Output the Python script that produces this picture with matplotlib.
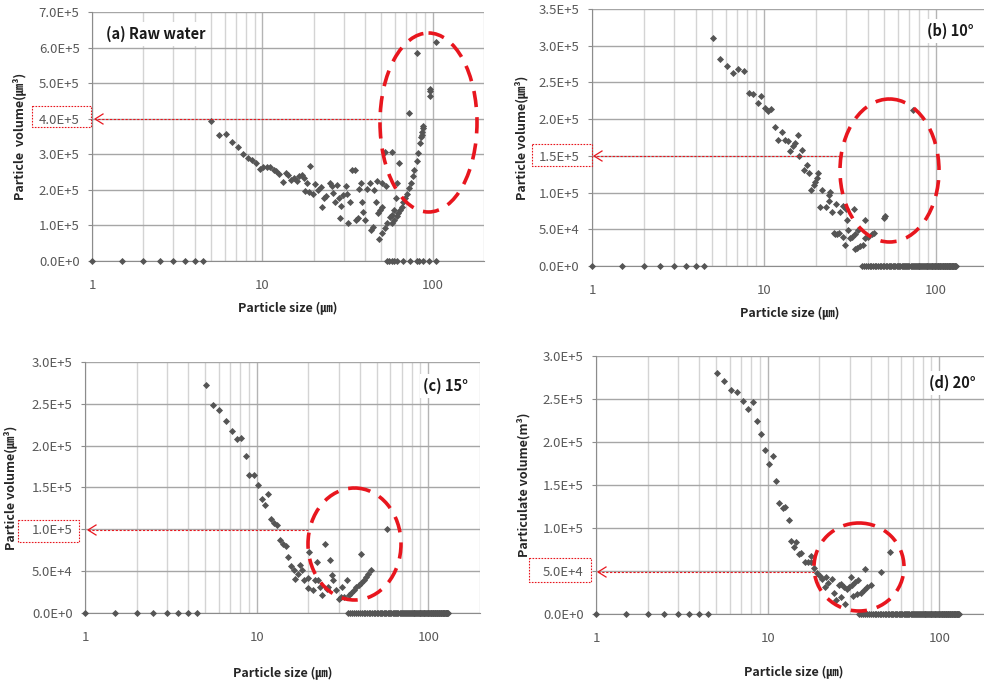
import numpy as np
import matplotlib
matplotlib.use("Agg")
import matplotlib.pyplot as plt
from matplotlib.patches import Ellipse, Rectangle
from matplotlib.ticker import FixedLocator, LogLocator, MultipleLocator, FuncFormatter, NullFormatter

plt.rcParams['font.family'] = ['Noto Sans CJK KR', 'DejaVu Sans']

# particle size bins (um) with zero volume, shared by all panels
small_bins = [1, 1.5, 2, 2.5, 3, 3.5, 4, 4.5]
tail_bins = [34, 35, 36, 37, 38, 39, 40, 41, 42, 43, 44, 45, 46, 47, 48, 49, 50, 51, 52, 53,
             54, 55, 56, 57, 58, 59, 60, 61, 62, 63, 64, 65, 66, 67, 68, 69, 70, 71, 72, 73,
             74, 75, 76, 77, 78, 79, 80, 81, 82, 83, 84, 85, 86, 87, 88, 89, 90, 91, 92, 93,
             94, 95, 96, 97, 98, 99, 100, 101, 102, 103, 104, 105, 106, 107, 108, 109, 110,
             111, 112, 113, 114, 115, 116, 117, 118, 119, 120, 121, 122, 123, 124, 125, 126,
             127, 128, 129, 130]
a_zero_bins = [53.8, 55.7, 57.4, 59.3, 61.5, 67.3, 73.6, 80.5, 83.5, 87.4, 95.5, 104.6]

# (a) raw water, volume in 1e5 um^3
a_size = [5.0, 5.6, 6.1, 6.6, 7.2, 7.7, 8.2, 8.7, 9.2, 9.7, 10.1, 10.6, 11.1, 11.7, 12.1, 12.6,
          13.2, 13.8, 14.2, 14.7, 15.3, 15.9, 16.4, 17.0, 17.6, 17.9, 18.2, 18.9, 19.1, 19.8,
          20.4, 21.3, 22.0, 22.3, 23.0, 23.6, 24.9, 25.5, 26.1, 26.7, 27.6, 28.3, 28.6, 28.8,
          29.9, 30.8, 31.5, 31.9, 32.7, 33.4, 34.9, 35.4, 36.2, 37.0, 37.9, 38.2, 39.1, 40.0,
          41.0, 42.6, 43.4, 44.4, 45.2, 46.6, 47.3, 47.8, 48.6, 49.0, 50.2, 50.3, 50.7, 52.5,
          52.6, 53.0, 54.0, 55.9, 57.4, 57.4, 58.0, 59.3, 59.5, 60.8, 61.3, 62.0, 62.8, 63.5,
          64.3, 65.7, 67.3, 68.9, 70.5, 72.3, 72.6, 74.5, 76.5, 78.0, 80.4, 80.9, 82.3, 84.3,
          85.5, 86.0, 86.5, 87.2, 87.7, 96.0, 96.5, 97.0, 105]
a_vol = [3.95, 3.55, 3.57, 3.35, 3.20, 3.00, 2.90, 2.85, 2.75, 2.59, 2.65, 2.64, 2.65, 2.57, 2.53, 2.46,
         2.22, 2.48, 2.43, 2.29, 2.32, 2.26, 2.38, 2.41, 2.34, 1.98, 2.19, 1.95, 2.67, 1.88,
         2.17, 2.00, 2.08, 1.53, 1.77, 1.84, 2.19, 2.10, 1.91, 1.67, 2.14, 1.77, 1.20, 1.55,
         1.87, 2.10, 1.89, 1.08, 1.65, 2.55, 2.55, 1.15, 1.20, 2.02, 2.19, 1.67, 1.39, 1.15,
         2.02, 2.19, 0.87, 0.96, 2.00, 1.67, 2.24, 1.34, 0.63, 1.44, 0.78, 2.19, 1.51, 3.07,
         0.92, 2.11, 1.06, 1.23, 3.07, 1.30, 1.06, 1.44, 1.15, 1.77, 1.27, 2.19, 1.36, 2.76,
         1.44, 1.53, 1.65, 1.77, 1.89, 2.05, 4.17, 2.19, 2.38, 2.57, 2.81, 5.85, 3.05, 3.33,
         3.48, 3.55, 3.64, 3.74, 3.80, 4.64, 4.78, 4.85, 6.15]

# (b) 10 deg
b_size = [5.05, 5.57, 6.12, 6.58, 7.06, 7.62, 8.14, 8.66, 9.19, 9.64, 10.1, 10.6, 11.0, 11.6, 12.1,
          12.7, 13.2, 13.8, 14.2, 14.8, 15.1, 15.8, 16.0, 16.6, 17.1, 17.7, 18.3, 18.7, 19.4, 19.8,
          20.4, 20.7, 21.2, 21.6, 22.9, 23.7, 23.7, 24.2, 24.7, 25.4, 25.9, 26.2, 26.5, 27.2, 27.7,
          28.7, 28.9, 29.6, 30.0, 30.5, 30.9, 31.7, 32.6, 33.1, 33.6, 33.8, 34.9, 35.3, 36.1, 37.5,
          38.6, 38.6, 40.4, 42.3, 43.8, 49.7, 50.7, 73.3]
b_vol = [3.11, 2.82, 2.72, 2.63, 2.68, 2.66, 2.35, 2.34, 2.22, 2.32, 2.15, 2.11, 2.14, 1.90, 1.72,
         1.83, 1.71, 1.70, 1.56, 1.63, 1.68, 1.78, 1.50, 1.58, 1.31, 1.38, 1.26, 1.03, 1.10, 1.14,
         1.20, 1.27, 0.80, 1.03, 0.81, 0.97, 0.88, 1.01, 0.74, 0.45, 0.43, 0.85, 0.44, 0.45, 0.74,
         0.40, 0.82, 0.29, 0.77, 0.63, 0.49, 0.38, 0.40, 0.77, 0.43, 0.23, 0.25, 0.49, 0.27, 0.29,
         0.63, 0.38, 0.40, 0.43, 0.45, 0.65, 0.68, 2.13]

# (c) 15 deg
c_size = [5.07, 5.6, 6.07, 6.64, 7.17, 7.67, 8.09, 8.68, 9.08, 9.67, 10.2, 10.7, 11.2, 11.7, 12.1,
          12.7, 13.2, 13.7, 14.3, 14.9, 15.3, 15.8, 16.4, 16.8, 17.3, 17.8, 18.3, 18.9, 19.8, 20.0,
          20.3, 21.4, 21.9, 22.4, 22.9, 23.5, 24.0, 25.1, 25.6, 26.2, 26.8, 27.4, 28.0, 29.1, 30.0,
          31.0, 31.4, 32.4, 33.6, 34.3, 35.5, 36.8, 38.0, 39.3, 40.7, 40.7, 42.0, 43.4, 44.8, 46.3,
          57.4]
c_vol = [2.72, 2.48, 2.43, 2.29, 2.17, 2.08, 2.09, 1.88, 1.65, 1.65, 1.53, 1.36, 1.29, 1.42, 1.12,
         1.07, 1.05, 0.87, 0.83, 0.80, 0.67, 0.56, 0.51, 0.41, 0.47, 0.57, 0.51, 0.39, 0.42, 0.30,
         0.73, 0.27, 0.40, 0.61, 0.40, 0.31, 0.22, 0.83, 0.29, 0.31, 0.63, 0.46, 0.40, 0.27, 0.17,
         0.19, 0.31, 0.19, 0.39, 0.21, 0.24, 0.27, 0.31, 0.33, 0.36, 0.71, 0.40, 0.43, 0.47, 0.51,
         1.00]

# (d) 20 deg
d_size = [5.08, 5.6, 6.1, 6.63, 7.17, 7.67, 8.2, 8.68, 9.2, 9.63, 10.2, 10.8, 11.2, 11.7, 12.3,
          12.7, 13.3, 13.7, 14.2, 14.7, 15.2, 15.7, 16.5, 17.2, 17.8, 18.0, 18.6, 19.4, 20.3, 20.8,
          21.5, 21.9, 22.5, 23.6, 24.3, 24.9, 26.0, 26.6, 26.9, 27.8, 28.4, 29.1, 29.7, 30.4, 31.1,
          31.5, 32.2, 33.3, 33.7, 34.8, 36.4, 36.9, 38.0, 39.8, 45.5, 51.5]
d_vol = [2.80, 2.71, 2.60, 2.58, 2.48, 2.38, 2.46, 2.24, 2.09, 1.91, 1.75, 1.84, 1.55, 1.29, 1.23,
         1.24, 1.09, 0.85, 0.78, 0.84, 0.70, 0.71, 0.60, 0.60, 0.61, 0.67, 0.53, 0.48, 0.44, 0.41,
         0.32, 0.43, 0.36, 0.41, 0.24, 0.16, 0.34, 0.20, 0.35, 0.32, 0.12, 0.29, 0.32, 0.43, 0.34,
         0.21, 0.37, 0.23, 0.39, 0.25, 0.28, 0.52, 0.31, 0.34, 0.49, 0.72]


def sci(v, pos):
    m, e = f"{v:.1E}".split("E")
    return f"{m}E+{int(e)}"


def panel(rect, sizes, vols, zeros, ymax, ystep, ylabel, title, tx, ty, ha, xlab_y, ylab_x):
    ax = fig.add_axes(rect)
    xs = list(zeros) + list(sizes)
    ys = [0.0] * len(zeros) + [v * 1e5 for v in vols]
    ax.scatter(xs, ys, marker='D', s=13, color='#555555', linewidths=0, zorder=3, clip_on=False)
    ax.set_xscale('log')
    ax.set_xlim(1, 200)
    ax.set_ylim(0, ymax)
    ax.xaxis.set_major_locator(FixedLocator([1, 10, 100]))
    ax.xaxis.set_major_formatter(FuncFormatter(lambda v, p: f"{v:g}"))
    ax.xaxis.set_minor_locator(LogLocator(base=10, subs=range(2, 10), numticks=20))
    ax.xaxis.set_minor_formatter(NullFormatter())
    ax.yaxis.set_major_locator(MultipleLocator(ystep))
    ax.yaxis.set_major_formatter(FuncFormatter(sci))
    ax.grid(axis='y', which='major', color='#a6a6a6', lw=1.0)
    ax.grid(axis='x', which='major', color='#b4b4b4', lw=1.0)
    ax.grid(axis='x', which='minor', color='#d4d4d4', lw=1.0)
    ax.set_axisbelow(True)
    for s in ['top', 'right']:
        ax.spines[s].set_visible(False)
    for s in ['left', 'bottom']:
        ax.spines[s].set_color('#8c8c8c')
    ax.tick_params(axis='x', which='both', length=0, pad=13, labelsize=9.5, labelcolor='#595959')
    ax.tick_params(axis='y', length=3, color='#8c8c8c', pad=6, labelsize=9.5, labelcolor='#595959')
    ax.set_xlabel('Particle size (㎛)', fontsize=9, fontweight='bold', color='#262626')
    ax.set_ylabel(ylabel, fontsize=9, fontweight='bold', color='#262626')
    ax.xaxis.set_label_coords(0.5, xlab_y)
    ax.yaxis.set_label_coords(ylab_x, 0.5)
    ax.text(tx, ty, title, transform=ax.transAxes, ha=ha, va='center', fontsize=10.5,
            fontweight='bold', color='#1a1a1a',
            bbox=dict(boxstyle='square,pad=0.25', fc='white', ec='none'), zorder=5)
    return ax


fig = plt.figure(figsize=(9.84, 6.84), dpi=100)

panel([0.0935, 0.6184, 0.3984, 0.364], a_size, a_vol, small_bins + a_zero_bins, 7e5, 1e5,
      'Particle  volume(㎛³)', '(a) Raw water', 0.036, 0.912, 'left', -0.161, -0.168)
panel([0.6016, 0.6111, 0.4024, 0.3757], b_size, b_vol, small_bins + [b for b in tail_bins if b >= 37],
      3.5e5, 5e4, 'Particle volume(㎛³)', '(b) 10°', 0.965, 0.914, 'right', -0.156, -0.162)
panel([0.0864, 0.1038, 0.4014, 0.367], c_size, c_vol, small_bins + tail_bins, 3e5, 5e4,
      'Particle volume(㎛³)', '(c) 15°', 0.970, 0.904, 'right', -0.211, -0.172)
panel([0.6057, 0.1023, 0.4014, 0.3772], d_size, d_vol, small_bins + tail_bins, 3e5, 5e4,
      'Particulate volume(m³)', '(d) 20°', 0.96, 0.895, 'right', -0.198, -0.167)

# red highlight overlay in figure pixels
ov = fig.add_axes([0, 0, 1, 1], zorder=10)
ov.set_xlim(0, 984)
ov.set_ylim(684, 0)
ov.axis('off')
ov.patch.set_alpha(0)

red = '#e8161e'
ellipses = [(428.5, 122.5, 97, 179), (889.5, 170.5, 99, 143), (354.5, 544, 93, 112), (859, 567, 90, 88)]
arrows = [(380, 95, 119), (840, 594, 156), (308, 88, 530), (814, 598, 572)]
boxes = [(32, 106, 59, 21), (532, 144, 60, 22), (18, 520, 61, 22), (529, 558, 62, 24)]
for cx, cy, w, h in ellipses:
    ov.add_patch(Ellipse((cx, cy), w, h, fill=False, ec=red, lw=2.6, ls=(0, (4.5, 2.8))))
for x0, x1, y in arrows:
    ov.plot([x0, x1], [y, y], color=red, lw=0.8, ls=(0, (2, 1.5)))
    ov.plot([x1 + 8, x1, x1 + 8], [y - 5, y, y + 5], color=red, lw=0.9)
for x, y, w, h in boxes:
    ov.add_patch(Rectangle((x, y), w, h, fill=False, ec=red, lw=0.8, ls=(0, (1.5, 1.2))))

fig.savefig('out.png', dpi=100)
